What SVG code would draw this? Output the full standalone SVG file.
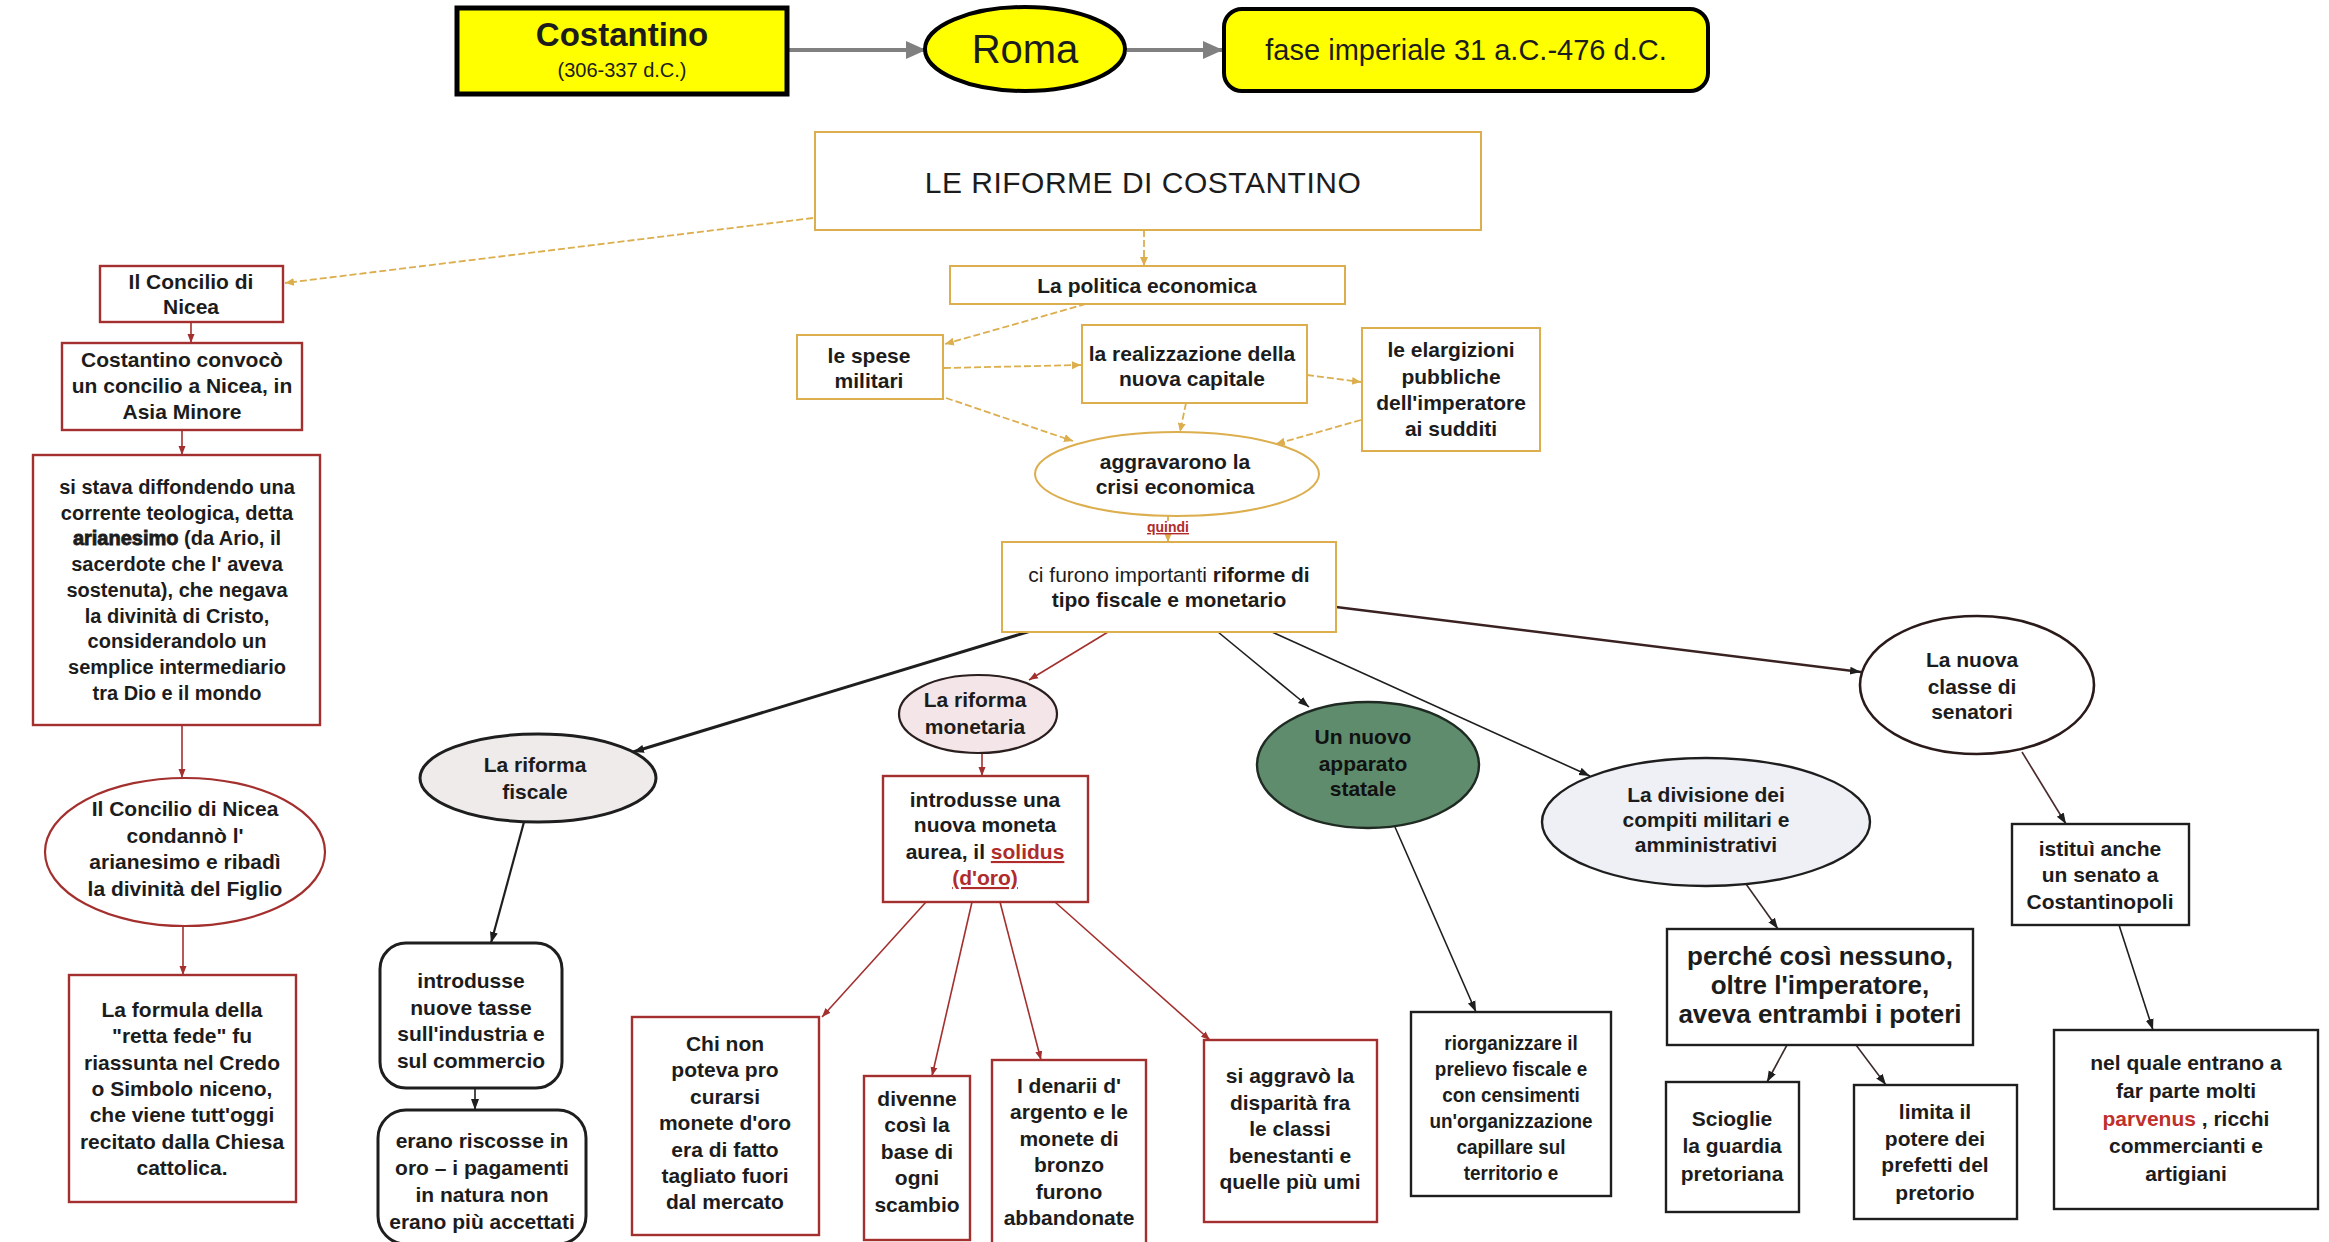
<svg xmlns="http://www.w3.org/2000/svg" width="2329" height="1242" viewBox="0 0 2329 1242">
<defs>
<style>
.t{font-family:'Liberation Sans',Arial,sans-serif;font-size:21px;font-weight:bold;text-anchor:middle;fill:#1c1c1c}
.n{font-weight:normal}
.hv{stroke:#1c1c1c;stroke-width:0.8}
.em{fill:#b02c2c;font-weight:bold;text-decoration:underline}
.tan{fill:#fff;stroke:#dcae4e;stroke-width:2}
.red{fill:#fff;stroke:#a3302e;stroke-width:2.4}
.blk{fill:#fff;stroke:#1e1e1e;stroke-width:2.4}
.ctan{fill:none;stroke:#dcae4e;stroke-width:1.8;stroke-dasharray:7 3}
.cred{fill:none;stroke:#a3302e;stroke-width:1.6}
.cblk{fill:none;stroke:#1e1e1e;stroke-width:1.6}
.cgray{fill:none;stroke:#808080;stroke-width:4}
</style>
<marker id="aTan" markerUnits="userSpaceOnUse" markerWidth="10" markerHeight="10" refX="9" refY="5" orient="auto"><path d="M0,1 L9,5 L0,9 Z" fill="#dcae4e"/></marker>
<marker id="aRed" markerUnits="userSpaceOnUse" markerWidth="10" markerHeight="10" refX="9" refY="5" orient="auto"><path d="M0,1.5 L9,5 L0,8.5 Z" fill="#a3302e"/></marker>
<marker id="aBlk" markerUnits="userSpaceOnUse" markerWidth="12" markerHeight="12" refX="11" refY="6" orient="auto"><path d="M0,2 L11,6 L0,10 Z" fill="#1e1e1e"/></marker>
<marker id="aGray" markerUnits="userSpaceOnUse" markerWidth="22" markerHeight="22" refX="20" refY="11" orient="auto"><path d="M0,2 L20,11 L0,20 Z" fill="#808080"/></marker>
</defs>
<rect x="0" y="0" width="2329" height="1242" fill="#fff"/>

<g id="connectors">
<line class="cgray" x1="789" y1="50" x2="926" y2="50" marker-end="url(#aGray)"/>
<line class="cgray" x1="1127" y1="50" x2="1223" y2="50" marker-end="url(#aGray)"/>
<line class="ctan" x1="813" y1="218" x2="285" y2="283" marker-end="url(#aTan)"/>
<line class="ctan" x1="1144" y1="230" x2="1144" y2="266" marker-end="url(#aTan)"/>
<line class="ctan" x1="1086" y1="304" x2="945" y2="344" marker-end="url(#aTan)"/>
<line class="ctan" x1="944" y1="368" x2="1081" y2="365" marker-end="url(#aTan)"/>
<line class="ctan" x1="1307" y1="375" x2="1361" y2="382" marker-end="url(#aTan)"/>
<line class="ctan" x1="946" y1="398" x2="1073" y2="441" marker-end="url(#aTan)"/>
<line class="ctan" x1="1186" y1="403" x2="1180" y2="432" marker-end="url(#aTan)"/>
<line class="ctan" x1="1361" y1="420" x2="1276" y2="444" marker-end="url(#aTan)"/>
<path class="ctan" d="M1168 516 V521 M1168 535 V542" style="stroke-dasharray:none" marker-end="url(#aTan)"/>
<line class="cred" x1="191" y1="322" x2="191" y2="343" marker-end="url(#aRed)"/>
<line class="cred" x1="182" y1="430" x2="182" y2="455" marker-end="url(#aRed)"/>
<line class="cred" x1="182" y1="725" x2="182" y2="778" marker-end="url(#aRed)"/>
<line class="cred" x1="183" y1="926" x2="183" y2="975" marker-end="url(#aRed)"/>
<line class="cblk" x1="1034" y1="630" x2="633" y2="752" style="stroke-width:3" marker-end="url(#aBlk)"/>
<line class="cred" x1="1108" y1="632" x2="1029" y2="680" marker-end="url(#aRed)"/>
<line class="cblk" x1="1218" y1="632" x2="1309" y2="707" marker-end="url(#aBlk)"/>
<line class="cblk" x1="1272" y1="632" x2="1590" y2="776" marker-end="url(#aBlk)"/>
<line class="cblk" x1="1336" y1="607" x2="1861" y2="672" style="stroke-width:2.6;stroke:#3a2222" marker-end="url(#aBlk)"/>
<line class="cblk" x1="524" y1="822" x2="491" y2="943" style="stroke-width:2.2" marker-end="url(#aBlk)"/>
<line class="cblk" x1="475" y1="1088" x2="475" y2="1110" marker-end="url(#aBlk)"/>
<line class="cred" x1="982" y1="753" x2="982" y2="776" marker-end="url(#aRed)"/>
<line class="cred" x1="926" y1="902" x2="822" y2="1017" marker-end="url(#aRed)"/>
<line class="cred" x1="972" y1="902" x2="932" y2="1076" marker-end="url(#aRed)"/>
<line class="cred" x1="1000" y1="902" x2="1041" y2="1060" marker-end="url(#aRed)"/>
<line class="cred" x1="1055" y1="902" x2="1210" y2="1040" marker-end="url(#aRed)"/>
<line class="cblk" x1="1395" y1="827" x2="1476" y2="1012" marker-end="url(#aBlk)"/>
<line class="cblk" x1="1746" y1="884" x2="1778" y2="929" style="stroke:#3a2a2a" marker-end="url(#aBlk)"/>
<line class="cblk" x1="1787" y1="1045" x2="1767" y2="1082" style="stroke:#3a2a2a" marker-end="url(#aBlk)"/>
<line class="cblk" x1="1856" y1="1045" x2="1886" y2="1085" style="stroke:#3a2a2a" marker-end="url(#aBlk)"/>
<line class="cblk" x1="2022" y1="752" x2="2066" y2="824" style="stroke:#4a2a2a" marker-end="url(#aBlk)"/>
<line class="cblk" x1="2119" y1="925" x2="2153" y2="1030" marker-end="url(#aBlk)"/>
</g>

<g id="n-costantino">
<rect x="457" y="8" width="330" height="86" fill="#ffff00" stroke="#000" stroke-width="5"/>
<text class="t" x="622" y="46" style="font-size:33px">Costantino</text>
<text class="t n" x="622" y="77" style="font-size:20px">(306-337 d.C.)</text>
</g>
<g id="n-roma">
<ellipse cx="1025" cy="49" rx="100" ry="42" fill="#ffff00" stroke="#000" stroke-width="4"/>
<text class="t n" x="1025" y="63" style="font-size:40px">Roma</text>
</g>
<g id="n-fase">
<rect x="1224" y="9" width="484" height="82" rx="18" fill="#ffff00" stroke="#000" stroke-width="4"/>
<text class="t n" x="1466" y="60" style="font-size:29px">fase imperiale 31 a.C.-476 d.C.</text>
</g>

<g id="n-riforme">
<rect class="tan" x="815" y="132" width="666" height="98"/>
<text class="t n" x="1143" y="193" style="font-size:30px;letter-spacing:0.5px">LE RIFORME DI COSTANTINO</text>
</g>
<g id="n-politica">
<rect class="tan" x="950" y="266" width="395" height="38"/>
<text class="t" x="1147" y="293">La politica economica</text>
</g>
<g id="n-spese">
<rect class="tan" x="797" y="335" width="146" height="64"/>
<text class="t"><tspan x="869" y="363">le spese</tspan><tspan x="869" y="388">militari</tspan></text>
</g>
<g id="n-capitale">
<rect class="tan" x="1082" y="325" width="225" height="78"/>
<text class="t"><tspan x="1192" y="361">la realizzazione della</tspan><tspan x="1192" y="386">nuova capitale</tspan></text>
</g>
<g id="n-elargizioni">
<rect class="tan" x="1362" y="328" width="178" height="123"/>
<text class="t"><tspan x="1451" y="357">le elargizioni</tspan><tspan x="1451" y="384">pubbliche</tspan><tspan x="1451" y="410">dell'imperatore</tspan><tspan x="1451" y="436">ai sudditi</tspan></text>
</g>
<g id="n-aggravarono">
<ellipse cx="1177" cy="474" rx="142" ry="42" fill="#fff" stroke="#dcae4e" stroke-width="2"/>
<text class="t"><tspan x="1175" y="469">aggravarono la</tspan><tspan x="1175" y="494">crisi economica</tspan></text>
</g>
<g id="l-quindi">
<text class="t em" x="1168" y="532" style="font-size:14px">quindi</text>
</g>
<g id="n-cifurono">
<rect class="tan" x="1002" y="542" width="334" height="90"/>
<text class="t"><tspan x="1169" y="582"><tspan class="n">ci furono importanti </tspan>riforme di</tspan><tspan x="1169" y="607">tipo fiscale e monetario</tspan></text>
</g>

<g id="n-nicea">
<rect class="red" x="100" y="266" width="183" height="56"/>
<text class="t"><tspan x="191" y="289">Il Concilio di</tspan><tspan x="191" y="314">Nicea</tspan></text>
</g>
<g id="n-convoco">
<rect class="red" x="62" y="343" width="240" height="87"/>
<text class="t"><tspan x="182" y="367">Costantino convocò</tspan><tspan x="182" y="393">un concilio a Nicea, in</tspan><tspan x="182" y="419">Asia Minore</tspan></text>
</g>
<g id="n-arianesimo">
<rect class="red" x="33" y="455" width="287" height="270"/>
<text class="t" style="font-size:20px"><tspan x="177" y="494">si stava diffondendo una</tspan><tspan x="177" y="520">corrente teologica, detta</tspan><tspan x="177" y="545"><tspan class="hv">arianesimo</tspan> (da Ario, il</tspan><tspan x="177" y="571">sacerdote che l' aveva</tspan><tspan x="177" y="597">sostenuta), che negava</tspan><tspan x="177" y="623">la divinità di Cristo,</tspan><tspan x="177" y="648">considerandolo un</tspan><tspan x="177" y="674">semplice intermediario</tspan><tspan x="177" y="700">tra Dio e il mondo</tspan></text>
</g>
<g id="n-condanno">
<ellipse cx="185" cy="852" rx="140" ry="74" fill="#fff" stroke="#a3302e" stroke-width="2.2"/>
<text class="t"><tspan x="185" y="816">Il Concilio di Nicea</tspan><tspan x="185" y="843">condannò l'</tspan><tspan x="185" y="869">arianesimo e ribadì</tspan><tspan x="185" y="896">la divinità del Figlio</tspan></text>
</g>
<g id="n-formula">
<rect class="red" x="69" y="975" width="227" height="227"/>
<text class="t"><tspan x="182" y="1017">La formula della</tspan><tspan x="182" y="1043">"retta fede" fu</tspan><tspan x="182" y="1070">riassunta nel Credo</tspan><tspan x="182" y="1096">o Simbolo niceno,</tspan><tspan x="182" y="1122">che viene tutt'oggi</tspan><tspan x="182" y="1149">recitato dalla Chiesa</tspan><tspan x="182" y="1175">cattolica.</tspan></text>
</g>

<g id="n-fiscale">
<ellipse cx="538" cy="778" rx="118" ry="44" fill="#efebeb" stroke="#1e1e1e" stroke-width="3"/>
<text class="t"><tspan x="535" y="772">La riforma</tspan><tspan x="535" y="799">fiscale</tspan></text>
</g>
<g id="n-tasse">
<rect class="blk" x="380" y="943" width="182" height="145" rx="26" style="stroke-width:3"/>
<text class="t"><tspan x="471" y="988">introdusse</tspan><tspan x="471" y="1015">nuove tasse</tspan><tspan x="471" y="1041">sull'industria e</tspan><tspan x="471" y="1068">sul commercio</tspan></text>
</g>
<g id="n-riscosse">
<rect class="blk" x="378" y="1110" width="208" height="134" rx="28" style="stroke-width:3"/>
<text class="t"><tspan x="482" y="1148">erano riscosse in</tspan><tspan x="482" y="1175">oro – i pagamenti</tspan><tspan x="482" y="1202">in natura non</tspan><tspan x="482" y="1229">erano più accettati</tspan></text>
</g>

<g id="n-monetaria">
<ellipse cx="978" cy="714" rx="79" ry="39" fill="#f4e6e8" stroke="#2a1e1e" stroke-width="2.2"/>
<text class="t"><tspan x="975" y="707">La riforma</tspan><tspan x="975" y="734">monetaria</tspan></text>
</g>
<g id="n-solidus">
<rect class="red" x="883" y="776" width="205" height="126"/>
<text class="t"><tspan x="985" y="807">introdusse  una</tspan><tspan x="985" y="832">nuova moneta</tspan><tspan x="985" y="859">aurea, il <tspan class="em">solidus</tspan></tspan><tspan x="985" y="885" class="em">(d'oro)</tspan></text>
</g>
<g id="n-chinon">
<rect class="red" x="632" y="1017" width="187" height="218"/>
<text class="t"><tspan x="725" y="1051">Chi non</tspan><tspan x="725" y="1077">poteva pro</tspan><tspan x="725" y="1104">curarsi</tspan><tspan x="725" y="1130">monete d'oro</tspan><tspan x="725" y="1157">era di fatto</tspan><tspan x="725" y="1183">tagliato fuori</tspan><tspan x="725" y="1209">dal mercato</tspan></text>
</g>
<g id="n-divenne">
<rect class="red" x="864" y="1076" width="106" height="164"/>
<text class="t"><tspan x="917" y="1106">divenne</tspan><tspan x="917" y="1132">così la</tspan><tspan x="917" y="1159">base di</tspan><tspan x="917" y="1185">ogni</tspan><tspan x="917" y="1212">scambio</tspan></text>
</g>
<g id="n-denarii">
<rect class="red" x="992" y="1060" width="154" height="186"/>
<text class="t"><tspan x="1069" y="1093">I denarii d'</tspan><tspan x="1069" y="1119">argento e le</tspan><tspan x="1069" y="1146">monete di</tspan><tspan x="1069" y="1172">bronzo</tspan><tspan x="1069" y="1199">furono</tspan><tspan x="1069" y="1225">abbandonate</tspan></text>
</g>
<g id="n-disparita">
<rect class="red" x="1204" y="1040" width="173" height="182"/>
<text class="t"><tspan x="1290" y="1083">si aggravò la</tspan><tspan x="1290" y="1110">disparità fra</tspan><tspan x="1290" y="1136">le classi</tspan><tspan x="1290" y="1163">benestanti e</tspan><tspan x="1290" y="1189">quelle più umi</tspan></text>
</g>

<g id="n-apparato">
<ellipse cx="1368" cy="765" rx="111" ry="63" fill="#5f8c6c" stroke="#1e2a22" stroke-width="2.4"/>
<text class="t" style="fill:#111"><tspan x="1363" y="744">Un nuovo</tspan><tspan x="1363" y="771">apparato</tspan><tspan x="1363" y="796">statale</tspan></text>
</g>
<g id="n-riorganizzare">
<rect class="blk" x="1411" y="1012" width="200" height="184"/>
<g transform="translate(1511,0) scale(0.9,1)">
<text class="t"><tspan x="0" y="1050">riorganizzare il</tspan><tspan x="0" y="1076">prelievo fiscale e</tspan><tspan x="0" y="1102">con censimenti</tspan><tspan x="0" y="1128">un'organizzazione</tspan><tspan x="0" y="1154">capillare sul</tspan><tspan x="0" y="1180">territorio e</tspan></text>
</g>
</g>
<g id="n-divisione">
<ellipse cx="1706" cy="822" rx="164" ry="64" fill="#eef0f6" stroke="#1e1e1e" stroke-width="2.4"/>
<text class="t"><tspan x="1706" y="802">La divisione dei</tspan><tspan x="1706" y="827">compiti militari e</tspan><tspan x="1706" y="852">amministrativi</tspan></text>
</g>
<g id="n-perche">
<rect class="blk" x="1667" y="929" width="306" height="116"/>
<text class="t" style="font-size:26px"><tspan x="1820" y="965">perché così nessuno,</tspan><tspan x="1820" y="994">oltre l'imperatore,</tspan><tspan x="1820" y="1023">aveva entrambi i poteri</tspan></text>
</g>
<g id="n-scioglie">
<rect class="blk" x="1666" y="1082" width="133" height="130"/>
<text class="t"><tspan x="1732" y="1126">Scioglie</tspan><tspan x="1732" y="1153">la guardia</tspan><tspan x="1732" y="1181">pretoriana</tspan></text>
</g>
<g id="n-limita">
<rect class="blk" x="1854" y="1085" width="163" height="134"/>
<text class="t"><tspan x="1935" y="1119">limita il</tspan><tspan x="1935" y="1146">potere dei</tspan><tspan x="1935" y="1172">prefetti del</tspan><tspan x="1935" y="1200">pretorio</tspan></text>
</g>
<g id="n-senatori">
<ellipse cx="1977" cy="685" rx="117" ry="69" fill="#fff" stroke="#2a1a1a" stroke-width="2.6"/>
<text class="t"><tspan x="1972" y="667">La nuova</tspan><tspan x="1972" y="694">classe di</tspan><tspan x="1972" y="719">senatori</tspan></text>
</g>
<g id="n-istitui">
<rect class="blk" x="2012" y="824" width="177" height="101"/>
<text class="t"><tspan x="2100" y="856">istituì anche</tspan><tspan x="2100" y="882">un senato a</tspan><tspan x="2100" y="909">Costantinopoli</tspan></text>
</g>
<g id="n-parvenus">
<rect class="blk" x="2054" y="1030" width="264" height="179"/>
<text class="t"><tspan x="2186" y="1070">nel quale entrano a</tspan><tspan x="2186" y="1098">far parte molti</tspan><tspan x="2186" y="1126"><tspan style="fill:#c0302a">parvenus</tspan> , ricchi</tspan><tspan x="2186" y="1153">commercianti e</tspan><tspan x="2186" y="1181">artigiani</tspan></text>
</g>
</svg>
